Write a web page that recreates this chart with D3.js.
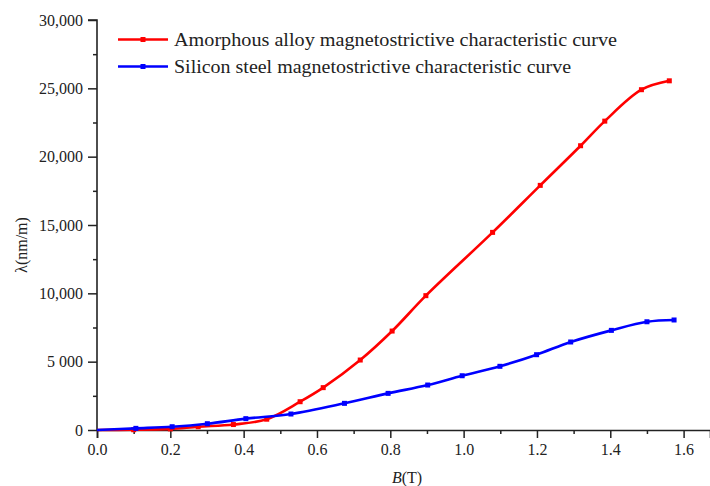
<!DOCTYPE html>
<html><head><meta charset="utf-8">
<script src="https://cdn.jsdelivr.net/npm/d3@7"></script>
<style>body{margin:0;background:#fff}svg{display:block}text{font-family:"Liberation Serif","DejaVu Serif",serif;fill:#222}</style>
</head><body><svg id="c" width="710" height="486"></svg>
<script>
const amorphousB = [0, 0.10, 0.20, 0.276, 0.372, 0.463, 0.554, 0.617, 0.718, 0.805, 0.897, 1.079, 1.209, 1.319, 1.385, 1.485, 1.561];
const amorphousL = [0, 20, 80, 240, 400, 790, 2070, 3100, 5120, 7240, 9830, 14460, 17900, 20800, 22600, 24900, 25550];
const siliconB = [0, 0.106, 0.205, 0.301, 0.406, 0.529, 0.675, 0.794, 0.902, 0.996, 1.099, 1.199, 1.292, 1.403, 1.500, 1.574];
const siliconL = [0, 120, 240, 460, 830, 1170, 1950, 2680, 3290, 3970, 4660, 5510, 6440, 7290, 7920, 8050];
const xTicks = [0, 0.2, 0.4, 0.6, 0.8, 1.0, 1.2, 1.4, 1.6];
const yTicks = [0, 5000, 10000, 15000, 20000, 25000, 30000];
const yTickLabels = ["0", "5 000", "10,000", "15,000", "20,000", "25,000", "30,000"];
const seriesNames = ["Amorphous alloy magnetostrictive characteristic curve", "Silicon steel magnetostrictive characteristic curve"];
const seriesColors = ["#ff0000", "#0000ff"];

const svg = d3.select("#c");
const x = d3.scaleLinear().domain([0, 1.672]).range([97, 710]);
const y = d3.scaleLinear().domain([0, 30000]).range([430, 20]);

const axisColor = "#222";
// x axis
const gx = svg.append("g").attr("transform", "translate(0,430)");
gx.call(d3.axisBottom(x).tickValues(d3.range(0.1, 1.65, 0.2)).tickSize(4).tickFormat(""));
gx.call(g => g.selectAll(".tick line").attr("stroke", axisColor).attr("stroke-width", 1.5));
const gx2 = svg.append("g").attr("transform", "translate(0,430)");
gx2.call(d3.axisBottom(x).tickValues(xTicks).tickSize(8).tickPadding(6).tickFormat(d3.format(".1f")));
gx2.select(".domain").attr("stroke", axisColor).attr("stroke-width", 1.6);
gx2.selectAll(".tick line").attr("stroke", axisColor).attr("stroke-width", 1.5);
gx2.selectAll(".tick text").attr("font-size", 16).attr("font-family", "Liberation Serif").attr("fill", "#222");

// y axis
const gy = svg.append("g").attr("transform", "translate(97,0)");
gy.call(d3.axisLeft(y).tickValues(d3.range(2500, 30000, 5000)).tickSize(4).tickFormat(""));
gy.selectAll(".tick line").attr("stroke", axisColor).attr("stroke-width", 1.5);
gy.select(".domain").remove();
const gy2 = svg.append("g").attr("transform", "translate(97,0)");
gy2.call(d3.axisLeft(y).tickValues(yTicks).tickSize(9).tickPadding(5).tickFormat((d, i) => yTickLabels[i]));
gy2.select(".domain").attr("stroke", axisColor).attr("stroke-width", 1.6).attr("d", `M-9,${y(30000)}H0V${y(0)}`);
gy2.selectAll(".tick line").attr("stroke", axisColor).attr("stroke-width", 1.5);
gy2.selectAll(".tick text").attr("font-size", 16).attr("font-family", "Liberation Serif").attr("fill", "#222");
svg.selectAll(".domain").attr("fill", "none");

// axis labels
const xl = svg.append("text").attr("x", 407).attr("y", 483).attr("text-anchor", "middle").attr("font-size", 16);
xl.append("tspan").attr("font-style", "italic").text("B");
xl.append("tspan").text("(T)");
svg.append("text").attr("transform", "translate(27,245) rotate(-90)").attr("text-anchor", "middle").attr("font-size", 16).text("λ(nm/m)");

// curves
const line = d3.line().x(d => x(d[0])).y(d => y(d[1])).curve(d3.curveCatmullRom.alpha(0.5));
const series = [d3.zip(amorphousB, amorphousL), d3.zip(siliconB, siliconL)];
series.forEach((s, i) => {
  svg.append("path").datum(s).attr("d", line).attr("fill", "none").attr("stroke", seriesColors[i]).attr("stroke-width", 2.6);
  svg.append("g").selectAll("rect").data(s.slice(1)).join("rect")
    .attr("x", d => x(d[0]) - 2.5).attr("y", d => y(d[1]) - 2.5).attr("width", 5).attr("height", 5)
    .attr("fill", seriesColors[i]);
});

// legend
const legY = [39.5, 66.5];
seriesNames.forEach((n, i) => {
  svg.append("line").attr("x1", 118).attr("x2", 168).attr("y1", legY[i]).attr("y2", legY[i]).attr("stroke", seriesColors[i]).attr("stroke-width", 2.6);
  svg.append("rect").attr("x", 140.5).attr("y", legY[i] - 2.5).attr("width", 5).attr("height", 5).attr("fill", seriesColors[i]);
  svg.append("text").attr("x", 174).attr("y", legY[i] + 6).attr("font-size", 18).attr("textLength", i === 0 ? 443 : 397).attr("lengthAdjust", "spacingAndGlyphs").text(n);
});
</script></body></html>
